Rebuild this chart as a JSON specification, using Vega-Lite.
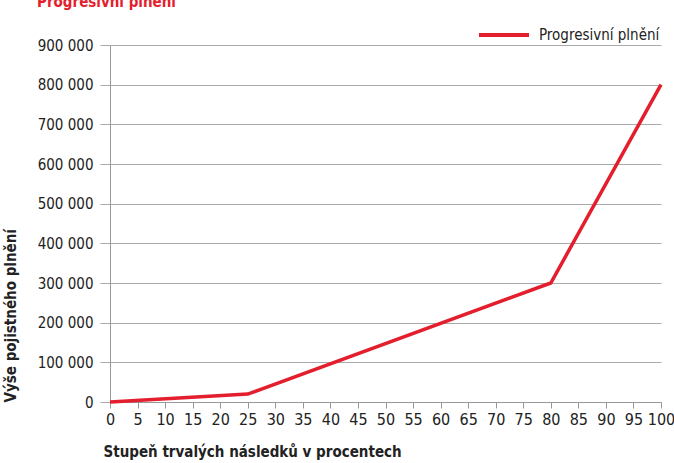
{
  "$schema": "https://vega.github.io/schema/vega-lite/v6.json",
  "width": 551,
  "height": 357,
  "autosize": {"type": "none"},
  "padding": {"left": 110, "top": 45, "right": 13, "bottom": 61},
  "background": "white",
  "config": {
    "font": "DejaVu Sans Condensed",
    "locale": {"number": {"decimal": ",", "thousands": " ", "grouping": [3], "currency": ["", ""]}},
    "view": {"stroke": null}
  },
  "title": {
    "text": "Progresivní plnění",
    "anchor": "start",
    "frame": "group",
    "color": "#E31E2D",
    "fontSize": 15,
    "fontWeight": "bold",
    "font": "DejaVu Sans Condensed",
    "dx": -73,
    "dy": 14,
    "baseline": "alphabetic",
    "offset": 0
  },
  "data": {
    "values": [
      {"stupen": 0, "plneni": 0, "serie": "Progresivní plnění"},
      {"stupen": 25, "plneni": 20000, "serie": "Progresivní plnění"},
      {"stupen": 80, "plneni": 300000, "serie": "Progresivní plnění"},
      {"stupen": 100, "plneni": 800000, "serie": "Progresivní plnění"}
    ]
  },
  "mark": {"type": "line", "strokeWidth": 3.5, "strokeJoin": "miter"},
  "encoding": {
    "x": {
      "field": "stupen",
      "type": "quantitative",
      "scale": {"domain": [0, 100], "nice": false},
      "axis": {
        "values": [0,5,10,15,20,25,30,35,40,45,50,55,60,65,70,75,80,85,90,95,100],
        "title": "Stupeň trvalých následků v procentech",
        "titleFontSize": 15,
        "titleFontWeight": "bold",
        "titleColor": "#222",
        "titleAnchor": "start",
        "titleAlign": "left",
        "titleX": -7,
        "titleY": 42,
        "labelFontSize": 16,
        "labelColor": "#222",
        "labelPadding": 3,
        "tickSize": 6,
        "tickColor": "#999",
        "domainColor": "#999",
        "grid": false,
        "labelFlush": false,
        "labelOverlap": false
      }
    },
    "y": {
      "field": "plneni",
      "type": "quantitative",
      "scale": {"domain": [0, 900000], "nice": false},
      "axis": {
        "values": [0,100000,200000,300000,400000,500000,600000,700000,800000,900000],
        "format": ",d",
        "title": "Výše pojistného plnění",
        "titleFontSize": 15,
        "titleFontWeight": "bold",
        "titleColor": "#222",
        "titleAnchor": "start",
        "titleX": -92,
        "titleY": 357,
        "labelFontSize": 15,
        "labelColor": "#222",
        "labelPadding": 7,
        "tickSize": 10,
        "tickColor": "#aaa",
        "domainColor": "#999",
        "grid": true,
        "gridColor": "#aaa",
        "labelOverlap": false
      }
    },
    "color": {
      "field": "serie",
      "type": "nominal",
      "scale": {"range": ["#E31E2D"]},
      "legend": {
        "title": null,
        "orient": "none",
        "legendX": 367,
        "legendY": -37,
        "symbolType": "stroke",
        "symbolSize": 2500,
        "symbolStrokeWidth": 4,
        "labelFontSize": 15,
        "labelColor": "#222",
        "labelOffset": 8
      }
    }
  }
}
